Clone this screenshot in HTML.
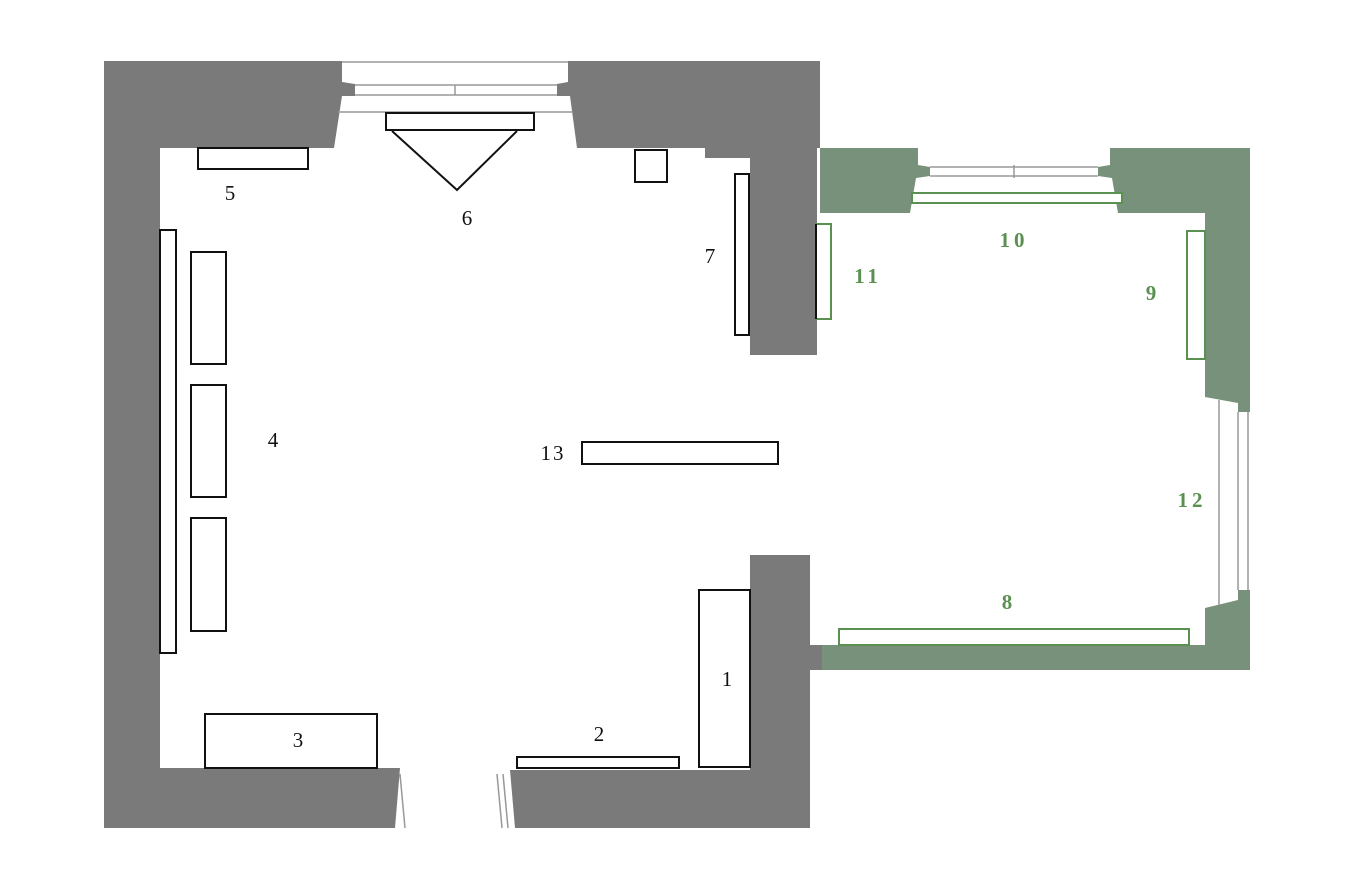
<!DOCTYPE html>
<html><head><meta charset="utf-8"><style>body{margin:0;background:#fff}svg{display:block}</style></head><body>
<svg width="1366" height="881" viewBox="0 0 1366 881" xmlns="http://www.w3.org/2000/svg">
<rect width="1366" height="881" fill="#fff"/>
<g fill="#7a7a7a">
<polygon points="104,61 342,61 342,82 355,84 355,96 342,96 334,148 160,148 160,768 400,768 395,828 104,828"/>
<polygon points="568,61 820,61 820,148 817,148 817,355 750,355 750,158 705,158 705,148 577,148 570,96 557,96 557,84 568,82"/>
<polygon points="750,555 810,555 810,828 515,828 510,770 750,770"/>
<rect x="808" y="645" width="14" height="25"/>
</g>
<g fill="#77917a">
<polygon points="820,148 918,148 918,165 930,167 930,176 916,178 910,213 820,213"/>
<polygon points="1110,148 1250,148 1250,412 1238,412 1238,403 1205,397 1205,213 1118,213 1112,178 1098,176 1098,167 1110,165"/>
<polygon points="1238,590 1250,590 1250,670 822,670 822,645 1205,645 1205,608 1238,600"/>
</g>
<g stroke="#999" stroke-width="1.5" fill="none">
<line x1="342" y1="62" x2="568" y2="62"/><line x1="355" y1="85" x2="557" y2="85"/><line x1="355" y1="95" x2="557" y2="95"/><line x1="338" y1="112" x2="572" y2="112"/><line x1="455" y1="85" x2="455" y2="95"/>
<line x1="930" y1="167" x2="1098" y2="167"/><line x1="930" y1="176" x2="1098" y2="176"/><line x1="1014" y1="165" x2="1014" y2="178"/>
<line x1="1219" y1="400" x2="1219" y2="605"/><line x1="1238" y1="412" x2="1238" y2="590"/><line x1="1248" y1="412" x2="1248" y2="590"/>
<line x1="400" y1="774" x2="405" y2="828"/><line x1="497" y1="774" x2="502" y2="828"/><line x1="503" y1="774" x2="508" y2="828"/>
</g>
<g stroke="#111" stroke-width="2" fill="#fff">
<rect x="198" y="148" width="110" height="21"/>
<rect x="386" y="113" width="148" height="17"/>
<polyline points="392,131 457,190 517,131" fill="none"/>
<rect x="635" y="150" width="32" height="32"/>
<rect x="735" y="174" width="14" height="161"/>
<rect x="160" y="230" width="16" height="423"/>
<rect x="191" y="252" width="35" height="112"/>
<rect x="191" y="385" width="35" height="112"/>
<rect x="191" y="518" width="35" height="113"/>
<rect x="582" y="442" width="196" height="22"/>
<rect x="205" y="714" width="172" height="54"/>
<rect x="517" y="757" width="162" height="11"/>
<rect x="699" y="590" width="51" height="177"/>
</g>
<g stroke="#5a9050" stroke-width="2" fill="#fff">
<rect x="816" y="224" width="15" height="95"/>
<rect x="912" y="193" width="210" height="10"/>
<rect x="1187" y="231" width="18" height="128"/>
<rect x="839" y="629" width="350" height="16"/>
</g>
<line x1="816" y1="224" x2="816" y2="319" stroke="#111" stroke-width="2"/>
<g font-family="Liberation Serif, serif" font-size="21" fill="#111" text-anchor="middle">
<text x="230" y="200">5</text><text x="467" y="225">6</text><text x="710" y="263">7</text>
<text x="273" y="447">4</text><text x="553" y="460" letter-spacing="2">13</text>
<text x="298" y="747">3</text><text x="599" y="741">2</text><text x="727" y="686">1</text>
</g>
<g font-family="Liberation Serif, serif" font-size="21" font-weight="bold" fill="#5a9050" text-anchor="middle" letter-spacing="4">
<text x="1014" y="247">10</text><text x="868" y="283">11</text><text x="1153" y="300">9</text>
<text x="1192" y="507">12</text><text x="1009" y="609">8</text>
</g>
</svg>
</body></html>
